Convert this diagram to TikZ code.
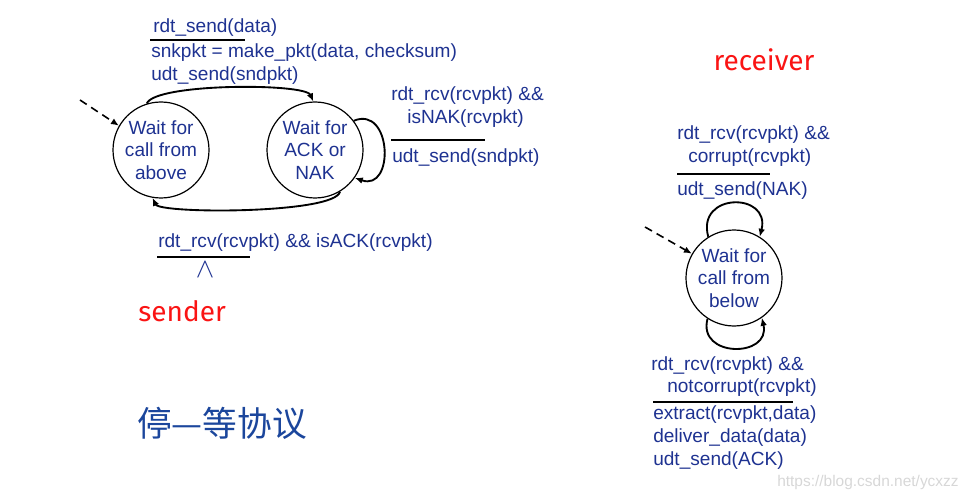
\documentclass[tikz,border=0pt]{standalone}
\usepackage{fontspec}
\setmainfont{Liberation Sans}
\newfontfamily\cjkfont{Noto Sans CJK SC}
\newfontfamily\handfont{Fira Sans}
\usetikzlibrary{arrows.meta}
\definecolor{fsmblue}{RGB}{30,50,145}
\definecolor{fsmred}{RGB}{250,20,20}
\definecolor{markgray}{RGB}{215,215,215}

\begin{document}
\begin{tikzpicture}[
    x=0.75pt, y=-0.75pt,
    every node/.style={font=\fontsize{14.3}{17}\selectfont, text=fsmblue},
    state/.style={draw, circle, minimum size=72pt, inner sep=0pt, line width=0.9pt, align=center},
    lbl/.style={anchor=west, inner sep=0pt},
    arr/.style={-{Latex[length=6pt,width=5pt]}, line width=1.4pt},
    init/.style={-{Latex[length=6pt,width=5pt]}, line width=1.2pt, dash pattern=on 6pt off 4pt},
    bar/.style={line width=1.4pt},
    title/.style={font=\handfont\fontsize{21}{24}\selectfont, text=fsmred}
]
\useasboundingbox (0,0) rectangle (971,499);

% sender
\node[state] (above) at (161,150) {Wait for\\call from\\above};
\node[state] (acknak) at (315,150) {Wait for\\ACK or\\NAK};
\coordinate (sinit) at (80,100);
\draw[init] (sinit) -- (above.150);

\draw[arr] (above.107) .. controls (155,83) and (305,83) .. (acknak.92);
\draw[arr] (acknak.-59) .. controls (335,214) and (160,214) .. (above.-100);
\draw[arr] (acknak.37) .. controls (392,105) and (395,192) .. (acknak.-35);

\node[lbl] (sendev) at (153,28) {rdt\_send(data)};
\draw[bar] (150,40) -- (245,40);
\node[lbl] (sendact1) at (151,53) {snkpkt = make\_pkt(data, checksum)};
\node[lbl] (sendact2) at (151,76) {udt\_send(sndpkt)};

\node[lbl] (nakev1) at (391,96) {rdt\_rcv(rcvpkt) \&\&};
\node[lbl] (nakev2) at (407,119) {isNAK(rcvpkt)};
\draw[bar] (391,140) -- (485,140);
\node[lbl] (nakact) at (392,158) {udt\_send(sndpkt)};

\node[lbl] (ackev) at (158,243) {rdt\_rcv(rcvpkt) \&\& isACK(rcvpkt)};
\draw[bar] (157,257) -- (250,257);
\node[inner sep=0pt, font=\fontsize{20}{20}\selectfont] (ackact) at (205,270) {$\wedge$};

\node[title, anchor=west, inner sep=0pt] (sender) at (138,311) {sender};
\node[anchor=west, inner sep=0pt, font=\cjkfont\fontsize{26}{30}\selectfont, text=fsmblue!90!cyan] (name) at (137,423) {停—等协议};

% receiver
\node[title, inner sep=0pt] (receiver) at (764,60) {receiver};
\node[state] (below) at (734,278) {Wait for\\call from\\below};
\coordinate (rinit) at (645,227);
\draw[init] (rinit) -- (below.150);

\draw[arr] (below.122) .. controls (696,192) and (771,192) .. (below.58);
\draw[arr] (below.-123) .. controls (697,358) and (771,358) .. (below.-55);

\node[lbl] (corev1) at (677,135) {rdt\_rcv(rcvpkt) \&\&};
\node[lbl] (corev2) at (688,158) {corrupt(rcvpkt)};
\draw[bar] (677,174) -- (770,174);
\node[lbl] (coract) at (677,191) {udt\_send(NAK)};

\node[lbl] (okev1) at (651,366) {rdt\_rcv(rcvpkt) \&\&};
\node[lbl] (okev2) at (667,388) {notcorrupt(rcvpkt)};
\draw[bar] (653,402) -- (793,402);
\node[lbl] (okact1) at (653,415) {extract(rcvpkt,data)};
\node[lbl] (okact2) at (653,438) {deliver\_data(data)};
\node[lbl] (okact3) at (653,461) {udt\_send(ACK)};

\node[lbl, font=\fontsize{11.6}{13}\selectfont, text=markgray] (mark) at (777,482) {https://blog.csdn.net/ycxzz};
\end{tikzpicture}
\end{document}
